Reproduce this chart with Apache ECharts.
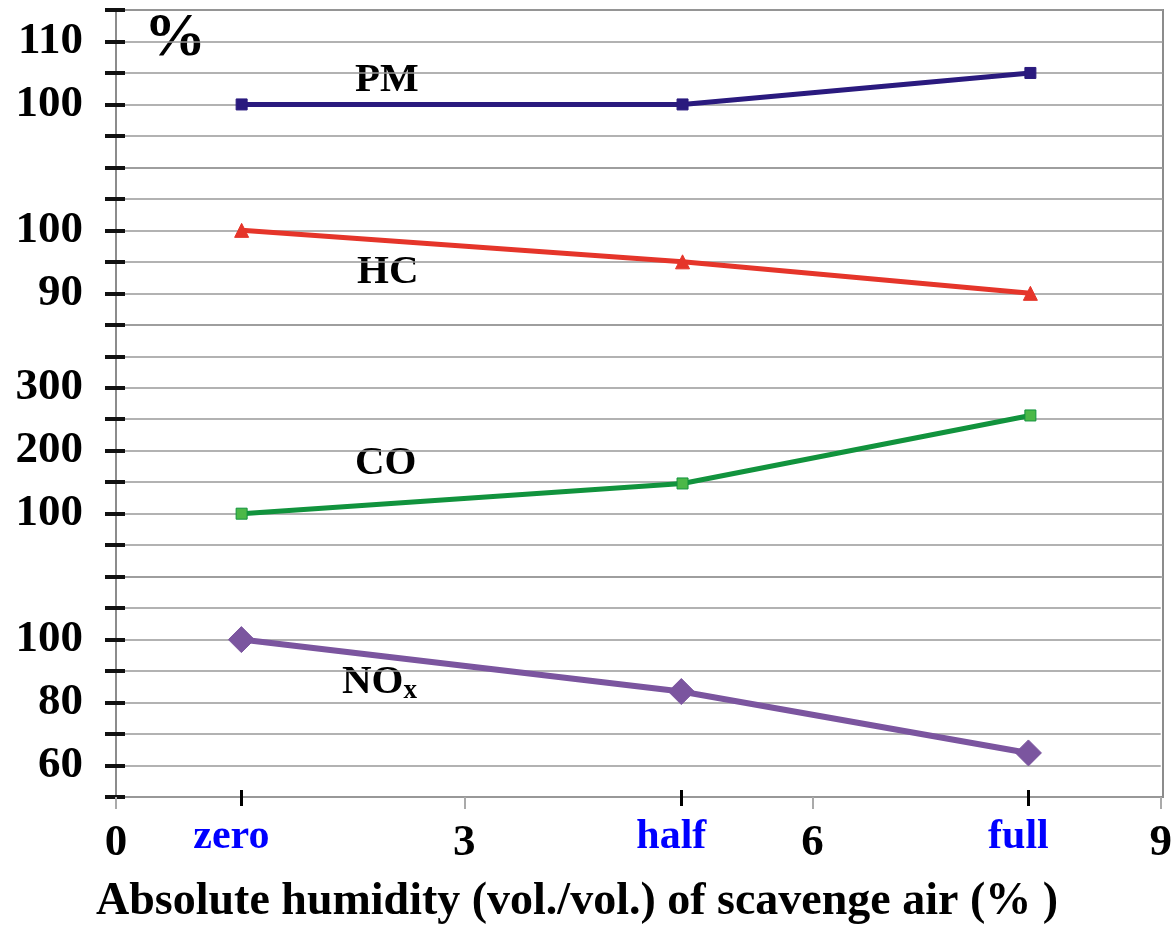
<!DOCTYPE html>
<html>
<head>
<meta charset="utf-8">
<script src="https://cdn.jsdelivr.net/npm/echarts@6/dist/echarts.min.js"></script>
<style>
  html, body { margin: 0; padding: 0; background: #fff; }
  #chart { width: 1175px; height: 925px; }
</style>
</head>
<body>
<div id="chart"></div>
<script>
// humidity positions of the three cases (x axis units)
const humidity = [1.08, 4.87, 7.86];
const caseNames = ['zero', 'half', 'full'];
const xTicks = [0, 3, 6, 9];

// relative emission values, %
const pmValues = [100, 100, 105];
const hcValues = [100, 95, 90];
const coValues = [100, 148, 256];
const noxValues = [100, 83.5, 64];

// labelled ticks on each stacked y scale
const pmLabels = [100, 110];
const hcLabels = [90, 100];
const coLabels = [100, 200, 300];
const noxLabels = [60, 80, 100];

const chart = echarts.init(document.getElementById('chart'));

const FONT = '"Liberation Serif", "Times New Roman", serif';
const top0 = 10, bottom0 = 797, steps = 25;
const step = (bottom0 - top0) / steps;
const LEFT = 116, RIGHT = 12;

// stacked panels, top to bottom
const panels = [
  { n: 5, min: 90, max: 115, interval: 5, labels: pmLabels },
  { n: 5, min: 85, max: 110, interval: 5, labels: hcLabels },
  { n: 8, min: 0, max: 400, interval: 50, labels: coLabels },
  { n: 7, min: 50, max: 120, interval: 10, labels: noxLabels }
];

const grids = [], xAxes = [], yAxes = [];
let acc = 0;
panels.forEach(function (p, i) {
  grids.push({
    left: LEFT, right: RIGHT,
    top: top0 + acc * step,
    height: p.n * step
  });
  acc += p.n;
  const last = i === panels.length - 1;
  xAxes.push({
    type: 'value', gridIndex: i, min: 0, max: 9, interval: 3,
    axisLine: { show: last, lineStyle: { color: '#999', width: 1.5 } },
    axisTick: { show: last, length: 12, lineStyle: { color: '#aaa', width: 2 } },
    axisLabel: {
      show: last, margin: 24, color: '#000', fontFamily: FONT,
      fontWeight: 'bold', fontSize: 45,
      formatter: function (v) { return xTicks.indexOf(v) >= 0 ? String(v) : ''; }
    },
    splitLine: { show: false }
  });
  // black ticks crossing the axis + labels + grid lines
  yAxes.push({
    type: 'value', gridIndex: i, position: 'left', min: p.min, max: p.max, interval: p.interval,
    offset: -9,
    axisLine: { show: false },
    axisTick: { show: true, length: 20, lineStyle: { color: '#111', width: 4 } },
    axisLabel: {
      show: true, margin: 42, color: '#000', fontFamily: FONT,
      fontWeight: 'bold', fontSize: 45,
      formatter: function (v) { return p.labels.indexOf(v) >= 0 ? String(v) : ''; }
    },
    splitLine: { show: true, lineStyle: { color: '#999', width: 1.5 } }
  });
});

// frame around the whole plot area
grids.push({
  left: LEFT, right: RIGHT, top: top0, height: bottom0 - top0,
  show: true, borderColor: '#8c8c8c', borderWidth: 2
});
xAxes.push({ type: 'value', gridIndex: 4, min: 0, max: 9, show: false });
yAxes.push({ type: 'value', gridIndex: 4, min: 0, max: steps, show: false });

// case axis on bottom panel
xAxes.push({
  type: 'value', gridIndex: 3, min: 0, max: 9, position: 'bottom', offset: -7,
  axisLine: { show: false },
  axisTick: { show: true, length: 16, customValues: humidity, lineStyle: { color: '#000', width: 3 } },
  axisLabel: {
    show: true, margin: 26, customValues: humidity, color: '#0000ff', fontFamily: FONT,
    fontWeight: 'bold', fontSize: 42, padding: [0, 20, 0, 0],
    formatter: function (v) { return caseNames[humidity.indexOf(v)]; }
  },
  splitLine: { show: false }
});

function pairs(vals) {
  return vals.map(function (v, i) { return [humidity[i], v]; });
}

function lineSeries(name, vals, grid, color, symbol, size, width, markerColor) {
  return {
    name: name, type: 'line', xAxisIndex: grid, yAxisIndex: grid,
    data: pairs(vals), symbol: symbol, symbolSize: size, showSymbol: true,
    lineStyle: { color: color, width: width },
    itemStyle: { color: markerColor || color, borderColor: color, borderWidth: 1 },
    z: 5
  };
}

const labelStyle = { fontFamily: FONT, fontWeight: 'bold', fontSize: 41, fill: '#000' };

chart.setOption({
  animation: false,
  grid: grids,
  xAxis: xAxes,
  yAxis: yAxes,
  series: [
    lineSeries('PM', pmValues, 0, '#2a1a7e', 'rect', 11, 5),
    lineSeries('HC', hcValues, 1, '#e5352a', 'triangle', 14, 5),
    lineSeries('CO', coValues, 2, '#11933d', 'rect', 11, 5, '#4cb848'),
    lineSeries('NOx', noxValues, 3, '#7b559f', 'diamond', 26, 6)
  ],
  graphic: [
    { type: 'text', left: 144, top: 8, style: { text: '%', fontFamily: FONT, fontWeight: 'bold', fontSize: 62, fill: '#000' } },
    { type: 'text', left: 355, top: 60, style: Object.assign({ text: 'PM' }, labelStyle) },
    { type: 'text', left: 357, top: 252, style: Object.assign({ text: 'HC' }, labelStyle) },
    { type: 'text', left: 355, top: 443, style: Object.assign({ text: 'CO' }, labelStyle) },
    {
      type: 'text', left: 342, top: 662,
      style: {
        text: '{a|NO}{b|x}',
        rich: {
          a: { fontFamily: FONT, fontWeight: 'bold', fontSize: 41, fill: '#000' },
          b: { fontFamily: FONT, fontWeight: 'bold', fontSize: 27, fill: '#000', padding: [18, 0, 0, 0] }
        }
      }
    },
    {
      type: 'text', left: 96, top: 879,
      style: { text: 'Absolute humidity (vol./vol.) of scavenge air (% )', fontFamily: FONT, fontWeight: 'bold', fontSize: 46, fill: '#000' }
    }
  ]
});
</script>
</body>
</html>
